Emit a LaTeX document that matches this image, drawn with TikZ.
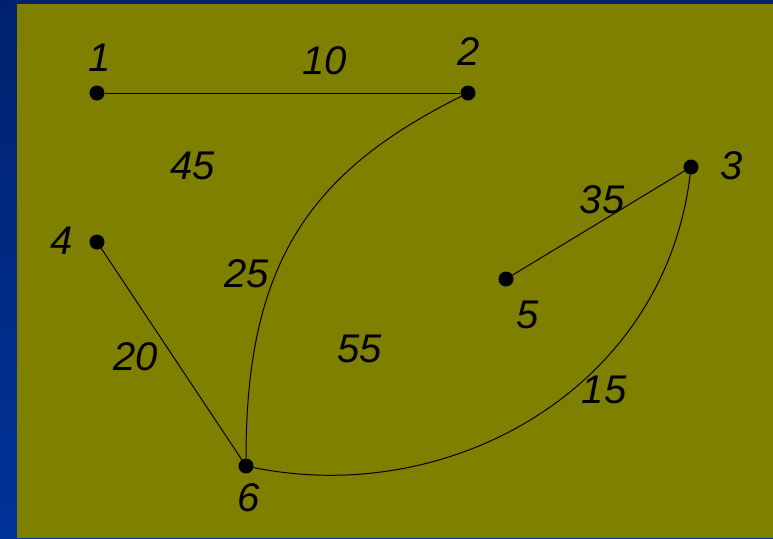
\documentclass[tikz,border=0pt]{standalone}
\usepackage{fontspec}
\setmainfont{Liberation Sans}
\usetikzlibrary{positioning}
\definecolor{SlideNavy}{RGB}{0,34,110}
\definecolor{SlideBlue}{RGB}{0,51,153}
\definecolor{SlideOlive}{RGB}{128,128,0}

\begin{document}
\begin{tikzpicture}[
  x=1pt, y=-1pt,
  vertex/.style={circle, fill=black, draw=none, inner sep=0pt, minimum size=15pt},
  weight/.style={font=\itshape\fontsize{40}{48}\selectfont, inner sep=0pt, text=black},
  edge/.style={draw=black, line width=1pt}
]
\useasboundingbox (0,0) rectangle (773,538);
\shade[top color=SlideNavy, bottom color=SlideBlue] (0,0) rectangle (773,538);
\fill[SlideOlive] (17,4) rectangle (773,538);

\node[vertex] (n1) at (97,93) {};
\node[vertex] (n2) at (468,93) {};
\node[vertex] (n3) at (691,167) {};
\node[vertex] (n4) at (97,242) {};
\node[vertex] (n5) at (506,279) {};
\node[vertex] (n6) at (246,466) {};

\node[weight] (l1) at (100,58) {1};
\node[weight] (l2) at (469,52) {2};
\node[weight] (l3) at (732,166) {3};
\node[weight] (l4) at (62,241) {4};
\node[weight] (l5) at (528,315) {5};
\node[weight] (l6) at (249,498) {6};

\node[weight] (w10) at (325,61) {10};
\node[weight] (w45) at (193,166) {45};
\node[weight] (w35) at (602,200) {35};
\node[weight] (w25) at (247,274) {25};
\node[weight] (w55) at (360,349) {55};
\node[weight] (w20) at (136,357) {20};
\node[weight] (w15) at (604,390) {15};

\draw[edge] (n1) -- (n2);
\draw[edge] (n5) -- (n3);
\draw[edge] (n4) -- (n6);
\draw[edge] (n6) .. controls +(0,-200) and +(-161,80) .. (n2);
\draw[edge] (n6) .. controls +(206,42) and +(-26,220) .. (n3);
\end{tikzpicture}
\end{document}
